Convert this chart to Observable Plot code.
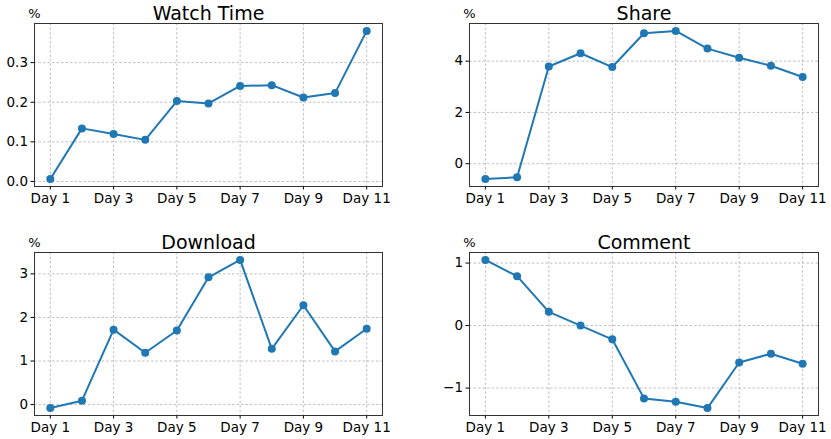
<!DOCTYPE html>
<html>
<head>
<meta charset="utf-8">
<script src="https://cdn.jsdelivr.net/npm/d3@7"></script>
<script src="https://cdn.jsdelivr.net/npm/@observablehq/plot@0.6"></script>
<style>
  body { margin: 0; background: white; }
  #wrap { position: relative; width: 831px; height: 439px; background: white; overflow: hidden; }
  .panel { position: absolute; }
</style>
</head>
<body>
<div id="wrap"></div>
<script>
const days = [1, 2, 3, 4, 5, 6, 7, 8, 9, 10, 11];
const xTicks = [1, 3, 5, 7, 9, 11];

const watchTime = [0.006, 0.134, 0.120, 0.105, 0.203, 0.197, 0.241, 0.243, 0.212, 0.223, 0.380];
const share = [-0.60, -0.53, 3.79, 4.31, 3.77, 5.09, 5.18, 4.49, 4.13, 3.82, 3.38];
const download = [-0.08, 0.09, 1.72, 1.19, 1.70, 2.92, 3.32, 1.28, 2.28, 1.22, 1.74];
const comment = [1.05, 0.79, 0.22, 0.00, -0.22, -1.165, -1.22, -1.32, -0.59, -0.45, -0.61];

const titles = ["Watch Time", "Share", "Download", "Comment"];
const watchTicks = [0.0, 0.1, 0.2, 0.3];
const shareTicks = [0, 2, 4];
const downloadTicks = [0, 1, 2, 3];
const commentTicks = [-1, 0, 1];

const minus = d => (d < 0 ? "\u2212" + Math.abs(d) : String(d));

function panel(opts) {
  const {title, values, yTicks, fmt, left, top, width, height, mL, mR, mT, mB} = opts;
  const data = days.map((d, i) => ({day: d, v: values[i]}));
  const [lo, hi] = d3.extent(values);
  const pad = (hi - lo) * 0.05;
  const grid = {stroke: "#b0b0b0", strokeDasharray: "2.5,2", strokeOpacity: 1, strokeWidth: 0.8};
  const plot = Plot.plot({
    width, height,
    marginLeft: mL, marginRight: mR, marginTop: mT, marginBottom: mB,
    style: {fontFamily: "'DejaVu Sans', sans-serif", fontSize: "13.5px", background: "white", overflow: "visible", color: "black"},
    x: {domain: [0.5, 11.5], ticks: xTicks, tickFormat: d => `Day ${d}`, label: null, tickSize: 3.5, tickPadding: 3},
    y: {domain: [lo - pad, hi + pad], ticks: yTicks, tickFormat: fmt, label: null, tickSize: 3.5, tickPadding: 3},
    marks: [
      Plot.gridX(xTicks, grid),
      Plot.gridY(yTicks, grid),
      Plot.line(data, {x: "day", y: "v", stroke: "#1f77b4", strokeWidth: 2}),
      Plot.dot(data, {x: "day", y: "v", fill: "#1f77b4", r: 4}),
      Plot.frame({stroke: "#333", strokeWidth: 1}),
      Plot.text([title], {text: d => d, frameAnchor: "top", lineAnchor: "bottom", dy: -4, fontSize: 19, fill: "black"}),
      Plot.text(["%"], {text: d => d, frameAnchor: "top-left", lineAnchor: "bottom", textAnchor: "middle", dy: -6, fontSize: 13, fill: "black"})
    ]
  });
  const div = document.createElement("div");
  div.className = "panel";
  div.style.left = left + "px";
  div.style.top = top + "px";
  div.appendChild(plot);
  document.getElementById("wrap").appendChild(div);
}

panel({title: titles[0], values: watchTime, yTicks: watchTicks, fmt: d3.format(".1f"),
  left: 0, top: 0, width: 415, height: 219, mL: 34, mR: 33, mT: 23, mB: 33});
panel({title: titles[1], values: share, yTicks: shareTicks, fmt: minus,
  left: 415, top: 0, width: 416, height: 219, mL: 54, mR: 13, mT: 23, mB: 33});
panel({title: titles[2], values: download, yTicks: downloadTicks, fmt: minus,
  left: 0, top: 220, width: 415, height: 219, mL: 34, mR: 33, mT: 32, mB: 24});
panel({title: titles[3], values: comment, yTicks: commentTicks, fmt: minus,
  left: 415, top: 220, width: 416, height: 219, mL: 54, mR: 13, mT: 32, mB: 24});
</script>
</body>
</html>
